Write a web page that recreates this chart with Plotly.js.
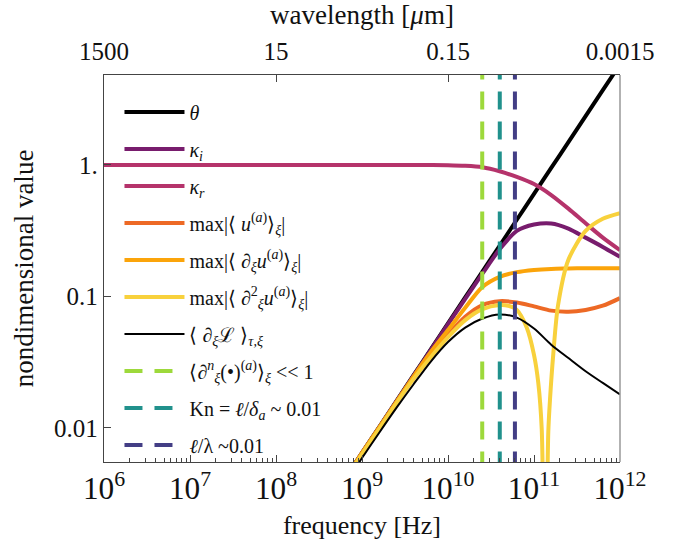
<!DOCTYPE html>
<html>
<head>
<meta charset="utf-8">
<script src="https://cdn.plot.ly/plotly-3.0.1.min.js"></script>
<style>html,body{margin:0;padding:0;background:#fff;}#chart{width:699px;height:544px;}</style>
</head>
<body>
<div id="chart"></div>
<script>
// ---- data ----
const freqHz = [1e6, 1e7, 1e8, 6.31e8, 1e9, 1.585e9, 2.512e9, 3.981e9, 6.31e9, 1e10, 1.585e10, 2.512e10, 3.981e10, 6.31e10, 1e11, 1.585e11, 2.512e11, 3.981e11, 6.31e11, 1e12];
const theta    = [null, null, null, 0.0041, 0.00646, 0.01016, 0.016, 0.0252, 0.0396, 0.0624, 0.0982, 0.1545, 0.243, 0.383, 0.603, 0.949, 1.49, 2.35, 3.70, 5.82];
const kappaI   = [null, null, null, 0.0041, 0.00645, 0.0101, 0.0159, 0.025, 0.0392, 0.0615, 0.096, 0.149, 0.228, 0.315, 0.352, 0.359, 0.328, 0.28, 0.238, 0.2];
const kappaR   = [1, 1, 1, 1, 1, 1, 1, 0.999, 0.998, 0.995, 0.985, 0.96, 0.895, 0.81, 0.715, 0.59, 0.465, 0.36, 0.28, 0.225];
const maxU     = [null, null, null, 0.0040, 0.0063, 0.0099, 0.0156, 0.024, 0.0355, 0.051, 0.070, 0.086, 0.092, 0.090, 0.084, 0.078, 0.0765, 0.079, 0.085, 0.097];
const maxDU    = [null, null, null, 0.0041, 0.00645, 0.0101, 0.0158, 0.0247, 0.0378, 0.0555, 0.082, 0.118, 0.141, 0.153, 0.159, 0.162, 0.163, 0.164, 0.164, 0.164];
const dL       = [null, null, null, 0.0037, 0.0059, 0.0092, 0.0142, 0.0215, 0.032, 0.045, 0.058, 0.068, 0.073, 0.069, 0.057, 0.043, 0.034, 0.027, 0.022, 0.018];
const freqD2   = [6.31e8, 1e9, 1.585e9, 2.512e9, 3.981e9, 6.31e9, 1e10, 1.585e10, 2.512e10, 3.981e10, 5.012e10, 6.31e10, 8.222e10, 1e11, 1.122e11, 1.23e11, 1.343e11, 1.466e11, 1.535e11, 1.679e11, 1.9e11, 2.512e11, 3.981e11, 6.31e11, 1e12];
const maxD2U   = [0.0040, 0.0063, 0.0098, 0.0154, 0.0236, 0.0345, 0.049, 0.066, 0.080, 0.086, 0.085, 0.079, 0.058, 0.036, 0.022, 0.0098, 0.0003, 0.0093, 0.0165, 0.037, 0.085, 0.19, 0.315, 0.39, 0.43];
const limitFreqs  = [2.5e10, 4.0e10, 6.0e10];
const limitSpan   = [0.001, 100];
const topTickFreqs  = [1e6, 1e8, 1e10, 1e12];
const topTickLabels = ['1500', '15', '0.15', '0.0015'];
const yTickVals   = [0.01, 0.1, 1];
const yTickLabels = ['0.01', '0.1', '1.'];
const names = [
  '<i>θ</i>',
  '<i>κ<sub>i</sub></i>',
  '<i>κ<sub>r</sub></i>',
  'max|⟨ <i>u</i><sup>(<i>a</i>)</sup>⟩<sub><i>ξ</i></sub>|',
  'max|⟨ ∂<sub><i>ξ</i></sub><i>u</i><sup>(<i>a</i>)</sup>⟩<sub><i>ξ</i></sub>|',
  'max|⟨ ∂<sup>2</sup><sub><i>ξ</i></sub><i>u</i><sup>(<i>a</i>)</sup>⟩<sub><i>ξ</i></sub>|',
  '⟨ ∂<sub><i>ξ</i></sub>ℒ ⟩<sub><i>τ,ξ</i></sub>',
  '⟨∂<sup><i>n</i></sup><sub><i>ξ</i></sub>(•)<sup>(<i>a</i>)</sup>⟩<sub><i>ξ</i></sub> << 1',
  'Kn = <i>ℓ</i>/<i>δ<sub>a</sub></i> ~ 0.01',
  '<i>ℓ</i>/λ ~0.01'
];
const colors = ['#000000', '#781C6D', '#B5336B', '#ED6925', '#FBA40A', '#F8D13C', '#000000', '#9DD93B', '#21918C', '#433E85'];

const serif = 'Liberation Serif, Times New Roman, serif';
const traces = [];
function curve(i, x, y, w) {
  traces.push({x: x, y: y, name: names[i], type: 'scatter', mode: 'lines',
    line: {color: colors[i], width: w, shape: 'spline', smoothing: 0.8},
    legendgroup: 'g' + i, hoverinfo: 'skip'});
}
curve(0, freqHz, theta, 4);
curve(1, freqHz, kappaI, 4);
curve(2, freqHz, kappaR, 4);
curve(3, freqHz, maxU, 4);
curve(4, freqHz, maxDU, 4);
curve(5, freqD2, maxD2U, 4);
curve(6, freqHz, dL, 2);
limitFreqs.forEach((f, k) => {
  traces.push({x: [f, f], y: limitSpan, name: names[7 + k], type: 'scatter', mode: 'lines',
    line: {color: colors[7 + k], width: 4, dash: '18px,12px'}, legendgroup: 'g' + (7 + k), hoverinfo: 'skip'});
});
traces.push({x: topTickFreqs, y: topTickFreqs.map(() => null), xaxis: 'x2', yaxis: 'y', type: 'scatter',
  mode: 'lines', showlegend: false, hoverinfo: 'skip'});

const layout = {
  width: 699, height: 544,
  margin: {l: 104, r: 79, t: 75, b: 82},
  paper_bgcolor: '#fff', plot_bgcolor: '#fff',
  font: {family: serif, size: 25, color: '#111'},
  showlegend: true,
  legend: {x: 0.03, y: 0.955, xanchor: 'left', yanchor: 'top', bgcolor: 'rgba(0,0,0,0)',
    font: {family: serif, size: 20, color: '#111'}, tracegroupgap: 8, traceorder: 'grouped', itemwidth: 60},
  xaxis: {type: 'log', range: [6, 12], dtick: 1, exponentformat: 'power', showgrid: false, zeroline: false,
    showline: true, linecolor: '#444', linewidth: 1.2, ticks: 'inside', ticklen: 7, tickcolor: '#444',
    minor: {ticks: 'inside', ticklen: 4, tickcolor: '#444', dtick: 'D1', showgrid: false},
    tickfont: {family: serif, size: 25},
    title: {text: 'frequency [Hz]', font: {family: serif, size: 26}, standoff: 10}},
  xaxis2: {type: 'log', range: [6, 12], overlaying: 'x', side: 'top', tickmode: 'array',
    tickvals: topTickFreqs, ticktext: topTickLabels, showgrid: false, zeroline: false,
    showline: true, linecolor: '#444', linewidth: 1.2, ticks: 'inside', ticklen: 7, tickcolor: '#444',
    tickfont: {family: serif, size: 25}, ticklabelstandoff: 4,
    title: {text: 'wavelength [<i>μ</i>m]', font: {family: serif, size: 27}, standoff: 8}},
  yaxis: {type: 'log', range: [-2.259, 0.684], tickmode: 'array', tickvals: yTickVals, ticktext: yTickLabels,
    showgrid: false, zeroline: false, showline: true, linecolor: '#444', linewidth: 1.2,
    ticks: 'inside', ticklen: 7, tickcolor: '#444', tickfont: {family: serif, size: 25},
    title: {text: 'nondimensional value', font: {family: serif, size: 27}, standoff: 12}},
  shapes: [{type: 'line', xref: 'paper', yref: 'paper', x0: 1, x1: 1, y0: 0, y1: 1,
    line: {color: '#999', width: 1.5}}]
};
Plotly.newPlot('chart', traces, layout, {staticPlot: true, displayModeBar: false});
</script>
</body>
</html>
